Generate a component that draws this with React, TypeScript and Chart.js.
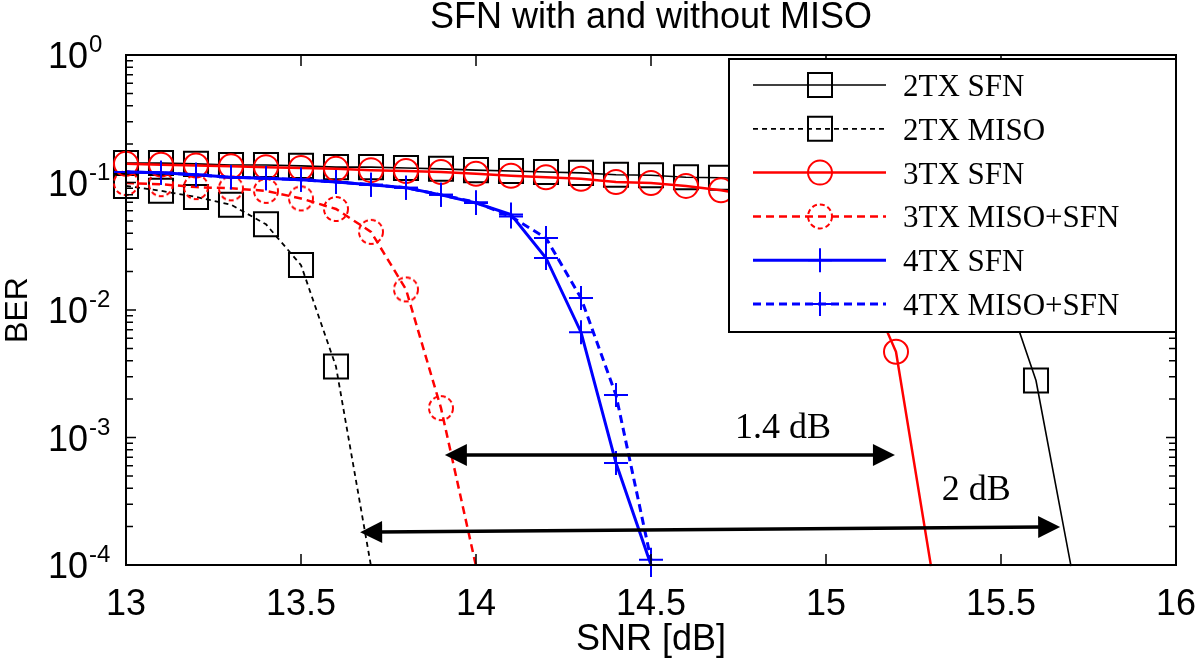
import React, { useEffect, useRef } from 'react';
import { Chart, registerables } from 'chart.js';

Chart.register(...registerables);

// ---------- data ----------
const titleText = 'SFN with and without MISO';
const xAxisTitle = 'SNR [dB]';
const yAxisTitle = 'BER';

const xTicks = [13, 13.5, 14, 14.5, 15, 15.5, 16];
const xTickLabels = ['13', '13.5', '14', '14.5', '15', '15.5', '16'];
const yTicks = [1, 0.1, 0.01, 0.001, 0.0001];
const yTickBases = ['10', '10', '10', '10', '10'];
const yTickExponents = ['0', '-1', '-2', '-3', '-4'];
const yMinorMultipliers = [2, 3, 4, 5, 6, 7, 8, 9];

const seriesLabels = ['2TX SFN', '2TX MISO', '3TX SFN', '3TX MISO+SFN', '4TX SFN', '4TX MISO+SFN'];

const snr2txSfn = [13.0, 13.1, 13.2, 13.3, 13.4, 13.5, 13.6, 13.7, 13.8, 13.9, 14.0, 14.1, 14.2, 14.3, 14.4, 14.5, 14.6, 14.7, 14.8, 14.9, 15.0, 15.1, 15.2, 15.3, 15.4, 15.5, 15.6, 15.7];
const ber2txSfn = [0.142, 0.142, 0.140, 0.137, 0.137, 0.135, 0.132, 0.132, 0.130, 0.128, 0.125, 0.123, 0.121, 0.119, 0.115, 0.114, 0.110, 0.109, 0.106, 0.102, 0.098, 0.092, 0.082, 0.065, 0.041, 0.018, 0.0028, 0.000098];

const snr2txMiso = [13.0, 13.1, 13.2, 13.3, 13.4, 13.5, 13.6, 13.7];
const ber2txMiso = [0.094, 0.086, 0.077, 0.067, 0.047, 0.0225, 0.0036, 0.000098];

const snr3txSfn = [13.0, 13.1, 13.2, 13.3, 13.4, 13.5, 13.6, 13.7, 13.8, 13.9, 14.0, 14.1, 14.2, 14.3, 14.4, 14.5, 14.6, 14.7, 14.8, 14.9, 15.0, 15.1, 15.2, 15.3];
const ber3txSfn = [0.140, 0.138, 0.136, 0.134, 0.132, 0.130, 0.128, 0.125, 0.123, 0.121, 0.117, 0.113, 0.110, 0.107, 0.101, 0.099, 0.094, 0.087, 0.078, 0.062, 0.040, 0.020, 0.0047, 0.000098];

const snr3txMiso = [13.0, 13.1, 13.2, 13.3, 13.4, 13.5, 13.6, 13.7, 13.8, 13.9, 14.0];
const ber3txMiso = [0.099, 0.097, 0.092, 0.090, 0.086, 0.075, 0.062, 0.041, 0.0145, 0.0017, 0.000098];

const snr4tx = [13.0, 13.1, 13.2, 13.3, 13.4, 13.5, 13.6, 13.7, 13.8, 13.9, 14.0, 14.1, 14.2, 14.3, 14.4, 14.5];
const ber4txSfn = [0.121, 0.119, 0.115, 0.110, 0.108, 0.105, 0.101, 0.096, 0.091, 0.080, 0.069, 0.056, 0.0256, 0.0067, 0.00063, 0.0001];
const ber4txMiso = [0.121, 0.119, 0.115, 0.110, 0.108, 0.105, 0.101, 0.096, 0.091, 0.080, 0.070, 0.054, 0.0367, 0.0124, 0.00215, 0.00011];

// annotations (double arrows + labels)
const annotationLabels = ['1.4 dB', '2 dB'];
const arrowStartSnr = [13.911, 13.669];
const arrowEndSnr = [15.197, 15.669];
const arrowStartBer = [7.3e-4, 1.81e-4];
const arrowEndBer = [7.3e-4, 1.99e-4];
const labelSnr = [14.877, 15.429];
const labelBer = [9.9e-4, 3.24e-4];

// ---------- styles ----------
const seriesColors = ['#000000', '#000000', '#ff0000', '#ff0000', '#0000ff', '#0000ff'];
const seriesDash = [[], [5, 4], [], [8, 5], [], [8, 5]];
const seriesWidths = [1.6, 1.8, 2.5, 2.5, 3, 3];
const seriesMarkers = ['rect', 'rect', 'circle', 'dashcircle', 'cross', 'cross'];
const markerRadius: Record<string, number> = { rect: 17, circle: 12, dashcircle: 12, cross: 12 };

const SANS = '"Liberation Sans", Arial, Helvetica, sans-serif';
const SERIF = '"Liberation Serif", "Times New Roman", serif';

function makeDashedCircle(color: string) {
  const c = document.createElement('canvas');
  c.width = 30;
  c.height = 30;
  const g = c.getContext('2d') as CanvasRenderingContext2D;
  g.strokeStyle = color;
  g.lineWidth = 2;
  g.setLineDash([5, 3]);
  g.beginPath();
  g.arc(15, 15, 12, 0, Math.PI * 2);
  g.stroke();
  return c;
}

function drawMarker(ctx: CanvasRenderingContext2D, style: string, x: number, y: number, color: string) {
  ctx.save();
  ctx.strokeStyle = color;
  ctx.lineWidth = 2;
  ctx.setLineDash(style === 'dashcircle' ? [5, 3] : []);
  ctx.beginPath();
  if (style === 'rect') {
    ctx.rect(x - 12, y - 12, 24, 24);
  } else if (style === 'circle' || style === 'dashcircle') {
    ctx.arc(x, y, 12, 0, Math.PI * 2);
  } else {
    ctx.moveTo(x - 12, y);
    ctx.lineTo(x + 12, y);
    ctx.moveTo(x, y - 12);
    ctx.lineTo(x, y + 12);
  }
  ctx.stroke();
  ctx.restore();
}

const decorPlugin = {
  id: 'decor',
  afterDatasetsDraw(chart: any) {
    const { ctx, chartArea: a, scales } = chart;
    const xs = scales.x;
    const ys = scales.y;
    ctx.save();
    ctx.fillStyle = '#000';
    ctx.strokeStyle = '#000';

    // title
    ctx.font = `36px ${SANS}`;
    ctx.textAlign = 'center';
    ctx.textBaseline = 'alphabetic';
    ctx.fillText(titleText, (a.left + a.right) / 2, 28);

    // axes box
    ctx.lineWidth = 2;
    ctx.strokeRect(a.left, a.top, a.right - a.left, a.bottom - a.top);

    // x ticks + labels
    ctx.lineWidth = 1.5;
    ctx.font = `36px ${SANS}`;
    xTicks.forEach((v, i) => {
      const px = xs.getPixelForValue(v);
      ctx.beginPath();
      ctx.moveTo(px, a.bottom);
      ctx.lineTo(px, a.bottom - 11);
      ctx.moveTo(px, a.top);
      ctx.lineTo(px, a.top + 11);
      ctx.stroke();
      ctx.fillText(xTickLabels[i], px, a.bottom + 50);
    });

    // y ticks (major + minor) + labels
    yTicks.forEach((v, i) => {
      const py = ys.getPixelForValue(v);
      ctx.beginPath();
      ctx.moveTo(a.left, py);
      ctx.lineTo(a.left + 10, py);
      ctx.moveTo(a.right, py);
      ctx.lineTo(a.right - 10, py);
      ctx.stroke();
      if (v < 1) {
        yMinorMultipliers.forEach((m) => {
          const pm = ys.getPixelForValue(v * m);
          ctx.beginPath();
          ctx.moveTo(a.left, pm);
          ctx.lineTo(a.left + 7, pm);
          ctx.moveTo(a.right, pm);
          ctx.lineTo(a.right - 7, pm);
          ctx.stroke();
        });
      }
      ctx.textAlign = 'right';
      ctx.font = `36px ${SANS}`;
      ctx.fillText(yTickBases[i], a.left - 38, py + 13);
      ctx.textAlign = 'left';
      ctx.font = `24px ${SANS}`;
      ctx.fillText(yTickExponents[i], a.left - 37, py - 3);
    });

    // axis titles
    ctx.textAlign = 'center';
    ctx.font = `36px ${SANS}`;
    ctx.fillText(xAxisTitle, (a.left + a.right) / 2, 650);
    ctx.save();
    ctx.translate(27, (a.top + a.bottom) / 2);
    ctx.rotate(-Math.PI / 2);
    ctx.font = `32px ${SANS}`;
    ctx.fillText(yAxisTitle, 0, 0);
    ctx.restore();

    // annotations
    annotationLabels.forEach((lab, i) => {
      const x1 = xs.getPixelForValue(arrowStartSnr[i]);
      const y1 = ys.getPixelForValue(arrowStartBer[i]);
      const x2 = xs.getPixelForValue(arrowEndSnr[i]);
      const y2 = ys.getPixelForValue(arrowEndBer[i]);
      const ang = Math.atan2(y2 - y1, x2 - x1);
      const head = 22;
      const half = 11;
      const c = Math.cos(ang);
      const s = Math.sin(ang);
      ctx.lineWidth = 3.5;
      ctx.beginPath();
      ctx.moveTo(x1 + c * head * 0.8, y1 + s * head * 0.8);
      ctx.lineTo(x2 - c * head * 0.8, y2 - s * head * 0.8);
      ctx.stroke();
      const tri = (tx: number, ty: number, dir: number) => {
        const bx = tx - dir * c * head;
        const by = ty - dir * s * head;
        ctx.beginPath();
        ctx.moveTo(tx, ty);
        ctx.lineTo(bx - s * half, by + c * half);
        ctx.lineTo(bx + s * half, by - c * half);
        ctx.closePath();
        ctx.fill();
      };
      tri(x2, y2, 1);
      tri(x1, y1, -1);
      ctx.font = `36px ${SERIF}`;
      ctx.textAlign = 'center';
      ctx.fillText(lab, xs.getPixelForValue(labelSnr[i]), ys.getPixelForValue(labelBer[i]));
    });

    // legend
    const lw = 447;
    const lh = 273;
    const lx = a.right - lw;
    const ly = a.top + 4;
    ctx.fillStyle = '#fff';
    ctx.fillRect(lx, ly, lw, lh);
    ctx.lineWidth = 2;
    ctx.strokeStyle = '#000';
    ctx.strokeRect(lx, ly, lw, lh);
    const datasets = chart.data.datasets;
    datasets.forEach((ds: any, i: number) => {
      const ry = ly + 26 + i * 43.8;
      ctx.save();
      ctx.strokeStyle = seriesColors[i];
      ctx.lineWidth = seriesWidths[i];
      ctx.setLineDash(seriesDash[i]);
      ctx.beginPath();
      ctx.moveTo(lx + 24, ry);
      ctx.lineTo(lx + 157, ry);
      ctx.stroke();
      ctx.restore();
      drawMarker(ctx, seriesMarkers[i], lx + 91, ry, seriesColors[i]);
      ctx.fillStyle = '#000';
      ctx.font = `31px ${SERIF}`;
      ctx.textAlign = 'left';
      ctx.fillText(ds.label, lx + 174, ry + 11);
    });
    ctx.restore();
  },
};

function toPoints(xs: number[], ys: number[]) {
  return xs.map((x, i) => ({ x, y: ys[i] }));
}

export default function App() {
  const ref = useRef<HTMLCanvasElement | null>(null);

  useEffect(() => {
    if (!ref.current) return;
    const seriesX = [snr2txSfn, snr2txMiso, snr3txSfn, snr3txMiso, snr4tx, snr4tx];
    const seriesY = [ber2txSfn, ber2txMiso, ber3txSfn, ber3txMiso, ber4txSfn, ber4txMiso];
    const dashedCircle = makeDashedCircle('#ff0000');
    const datasets = seriesLabels.map((label, i) => ({
      label,
      data: toPoints(seriesX[i], seriesY[i]),
      borderColor: seriesColors[i],
      borderWidth: seriesWidths[i],
      borderDash: seriesDash[i],
      backgroundColor: 'rgba(0,0,0,0)',
      pointStyle: seriesMarkers[i] === 'dashcircle' ? dashedCircle : seriesMarkers[i],
      pointRadius: (c: any) => (c.raw && c.raw.y < 1e-4 ? 0 : markerRadius[seriesMarkers[i]]),
      pointBorderColor: seriesColors[i],
      pointBackgroundColor: 'rgba(0,0,0,0)',
      pointBorderWidth: 2,
      tension: 0,
      fill: false,
      clip: false as any,
      order: seriesLabels.length - 1 - i,
    }));

    const chart = new Chart(ref.current, {
      type: 'line',
      data: { datasets },
      options: {
        animation: false,
        responsive: false,
        maintainAspectRatio: false,
        devicePixelRatio: 1,
        layout: { padding: { left: 126, top: 55, right: 24, bottom: 93 } },
        plugins: {
          legend: { display: false },
          tooltip: { enabled: false },
          title: { display: false },
        },
        scales: {
          x: { type: 'linear', min: 13, max: 16, display: false },
          y: { type: 'logarithmic', min: 1e-4, max: 1, display: false },
        },
      },
      plugins: [decorPlugin],
    });
    return () => chart.destroy();
  }, []);

  return (
    <div style={{ position: 'absolute', left: 0, top: 0, width: 1200, height: 658, background: '#fff' }}>
      <canvas ref={ref} width={1200} height={658} style={{ display: 'block' }} />
    </div>
  );
}
